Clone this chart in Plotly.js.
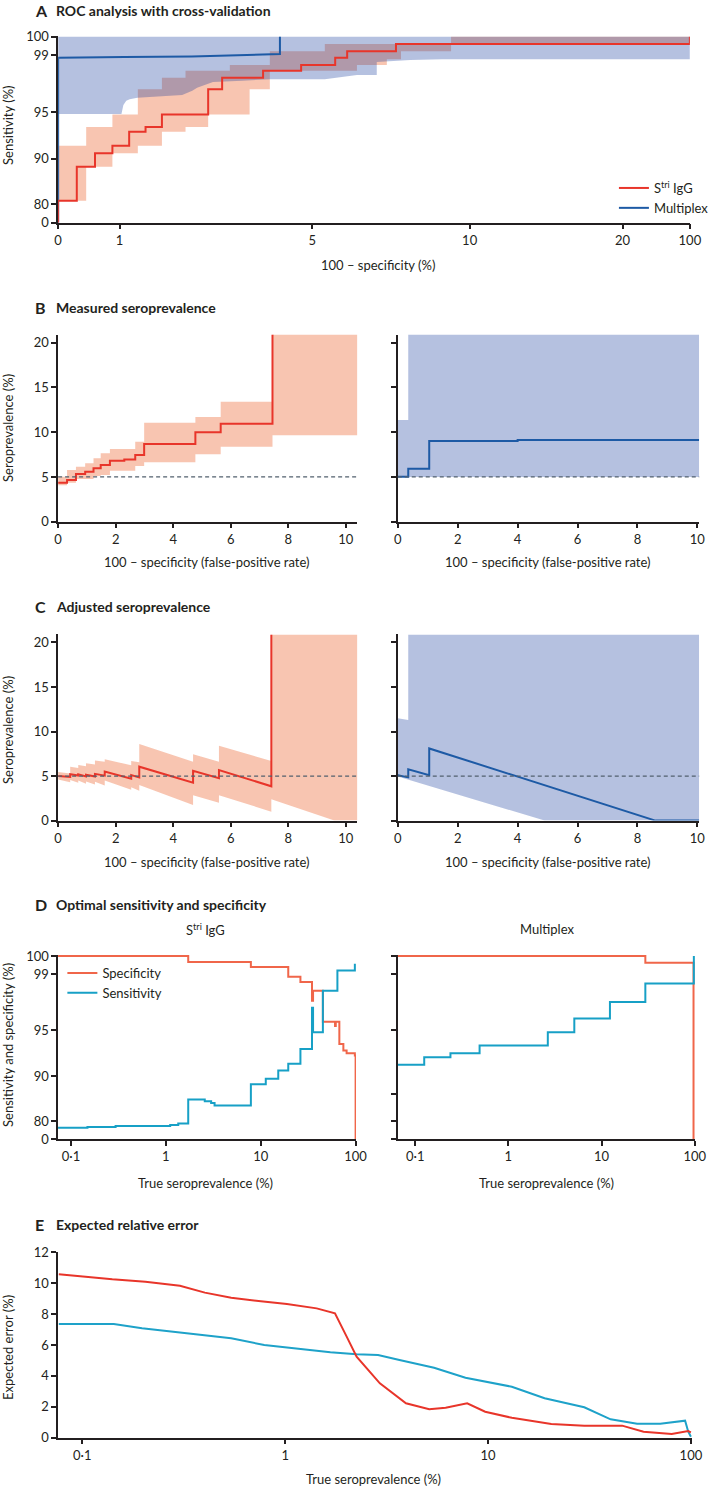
<!DOCTYPE html>
<html><head><meta charset="utf-8">
<script src="https://cdn.plot.ly/plotly-3.0.1.min.js"></script>
<style>html,body{margin:0;padding:0;background:#fff}</style>
</head><body><div id="chart" style="width:714px;height:1487px"></div>
<script>
// ---------------- DATA ----------------
// A: ROC with cross-validation (x = 100 - specificity %, y = sensitivity %)
const rocStriFpr  = [0, 0, 0.304, 0.601, 0.884, 1.20, 1.54, 1.88, 2.84, 3.13, 3.98, 4.77, 5.73, 6.11, 7.66, 100];
const rocStriSens = [0, 80.8, 88.3, 90.6, 91.4, 92.9, 93.4, 94.75, 96.6, 97.4, 97.9, 98.3, 98.8, 99.2, 99.6, 100];
const rocStriUpFpr  = [0, 0.457, 0.884, 1.38, 1.88, 2.37, 3.29, 4.12, 5.40, 9.41, 100];
const rocStriUp     = [91.4, 93.4, 94.75, 96.6, 97.4, 97.9, 98.3, 99.2, 99.6, 100, 100];
const rocStriLoFpr  = [0, 0.457, 0.884, 1.38, 1.88, 2.37, 2.84, 3.70, 4.12, 6.42, 7.37, 7.82, 9.41, 100];
const rocStriLo     = [80.8, 88.3, 90.6, 91.4, 92.9, 93.4, 94.75, 96.6, 97.9, 98.3, 98.7, 99.2, 99.6, 99.6];
const rocMultiFpr  = [0, 0, 1.1, 2.5, 4.33, 4.33];
const rocMultiSens = [0, 98.8, 98.85, 98.9, 99.05, 100];
const rocMultiLoFpr = [0, 1.04, 1.08, 1.14, 1.21, 1.37, 2.30, 2.51, 2.61, 2.94, 3.55, 4.12, 5.40, 6.02, 6.42, 7.05, 7.05, 8.11, 9.13, 100];
const rocMultiLo    = [94.8, 94.8, 95.5, 95.8, 95.9, 96.0, 96.2, 96.5, 96.7, 97.1, 97.2, 97.3, 97.3, 97.5, 97.6, 97.6, 98.5, 98.65, 98.7, 98.7];
const rocMultiUpFpr = [0, 100];
const rocMultiUp    = [100, 100];

// B: measured seroprevalence (x = false-positive rate %, y = %)
const trueSeroprevalence = 5;
const measStriFpr = [0, 0.31, 0.62, 0.94, 1.23, 1.48, 1.8, 2.3, 2.68, 2.99, 4.77, 5.65, 7.45];
const measStri    = [4.36, 4.66, 5.33, 5.59, 5.96, 6.33, 6.82, 6.95, 7.45, 8.68, 9.99, 10.95, 20.9];
const measStriBandFpr = [0, 0.31, 0.62, 0.94, 1.23, 1.48, 1.8, 2.68, 2.99, 4.77, 5.65, 7.45, 10.4];
const measStriUp = [5.03, 5.78, 6.15, 6.52, 7.08, 7.64, 8.12, 8.94, 11.06, 11.7, 13.4, 20.9, 20.9];
const measStriLo = [4.07, 4.36, 4.77, 4.77, 5.1, 5.22, 5.7, 6.22, 6.63, 7.53, 8.38, 9.65, 9.65];
const measMultiFpr = [0, 0.35, 1.05, 4.0, 10.06];
const measMulti    = [5.03, 5.92, 9.02, 9.13, 9.13];
const measMultiBandFpr = [0, 0.35, 10.06];
const measMultiUp = [11.36, 20.9, 20.9];
const measMultiLo = [5.0, 5.0, 5.0];

// C: adjusted seroprevalence
const adjStriFpr = [0, 0.42, 0.42, 0.70, 0.70, 0.97, 0.97, 1.28, 1.28, 1.62, 1.62, 2.54, 2.54, 2.82, 2.82, 4.69, 4.69, 5.59, 5.59, 7.41, 7.41];
const adjStri    = [5.0, 4.9, 5.2, 5.05, 5.2, 4.95, 5.15, 4.95, 5.25, 5.05, 5.5, 4.7, 5.1, 4.85, 6.05, 4.25, 5.6, 4.75, 5.68, 3.85, 20.9];
const adjStriBandFpr = [0, 0.42, 0.42, 0.70, 0.70, 0.97, 0.97, 1.28, 1.28, 1.62, 1.62, 2.54, 2.54, 2.82, 2.82, 4.69, 4.69, 5.59, 5.59, 7.41, 7.41, 9.6, 10.4];
const adjStriUp = [5.45, 5.3, 6.05, 5.9, 6.25, 6.1, 6.45, 6.3, 6.75, 6.6, 6.9, 6.2, 6.7, 6.55, 8.6, 6.6, 7.45, 6.6, 8.4, 6.7, 20.9, 20.9, 20.9];
const adjStriLo = [4.6, 4.3, 4.55, 4.25, 4.5, 4.15, 4.4, 4.05, 4.35, 3.95, 4.5, 3.45, 3.75, 3.35, 4.0, 1.75, 2.85, 2.0, 2.85, 1.0, 2.4, 0, 0];
const adjMultiFpr = [0, 0.35, 0.35, 1.05, 1.05, 8.6, 10.06];
const adjMulti    = [5.1, 4.85, 5.75, 5.1, 8.1, 0, 0];
const adjMultiUpFpr = [0, 0.35, 0.35, 10.06];
const adjMultiUp    = [11.5, 11.3, 20.9, 20.9];
const adjMultiLoFpr = [0, 4.9, 10.06];
const adjMultiLo    = [4.95, 0, 0];

// D: optimal sensitivity and specificity (x = true seroprevalence %)
const optStriSpecPrev = [0.073, 1.72, 7.87, 19.5, 26.2, 34.7, 35.6, 45.2, 60.7, 61.8, 67.4, 74.3, 80.4, 98.2, 100];
const optStriSpec     = [100, 99.67, 99.39, 98.8, 98.44, 97.1, 97.8, 95.6, 95.3, 95.6, 93.5, 92.8, 92.5, 92.26, 0];
const optStriSensPrev = [0.073, 0.149, 0.295, 1.11, 1.35, 1.72, 2.57, 3.0, 3.26, 7.87, 11.3, 15.3, 19.5, 26.2, 34.7, 35.6, 45.2, 64.3, 98.2];
const optStriSens     = [50.1, 53.2, 57.7, 62.1, 69.6, 84.8, 84.4, 84.05, 83.5, 88.2, 89.47, 90.63, 91.36, 92.97, 96.6, 94.77, 97.8, 99.2, 99.57];
const optMultiSpecPrev = [0.065, 29.5, 97];
const optMultiSpec     = [100, 99.63, 0];
const optMultiSensPrev = [0.065, 0.125, 0.239, 0.491, 2.65, 5.1, 12.3, 29.5, 97.8];
const optMultiSens     = [91.25, 92.07, 92.5, 93.33, 94.77, 95.84, 97.0, 98.32, 100];

// E: expected relative error
const errStriPrev = [0.0766, 0.1, 0.1406, 0.2047, 0.303, 0.402, 0.542, 0.759, 1.02, 1.43, 1.76, 2.01, 2.25, 2.93, 3.94, 5.13, 6.18, 7.89, 9.68, 13.1, 20.5, 29.8, 45.8, 58.4, 80.4, 97.0, 100];
const errStri     = [10.58, 10.42, 10.25, 10.1, 9.84, 9.39, 9.06, 8.83, 8.65, 8.37, 8.05, 6.54, 5.24, 3.52, 2.23, 1.84, 1.94, 2.23, 1.68, 1.29, 0.89, 0.78, 0.78, 0.39, 0.24, 0.43, 0.35];
const errMultiPrev = [0.0766, 0.143, 0.197, 0.276, 0.372, 0.542, 0.789, 1.15, 1.67, 2.25, 2.87, 3.66, 5.42, 7.74, 13.1, 19.0, 29.8, 40.2, 54.3, 70.6, 93.6, 97.0, 100];
const errMulti     = [7.36, 7.36, 7.08, 6.86, 6.65, 6.43, 6.0, 5.74, 5.53, 5.40, 5.35, 5.03, 4.53, 3.88, 3.30, 2.55, 1.97, 1.19, 0.91, 0.91, 1.10, 0.39, 0.06];

// Tick labels
const warpTicksU = [0, 1, 5, 10, 20, 100];
const fprTickText = ['0', '1', '5', '10', '20', '100'];
const sensTickVals = [0, 80, 90, 95, 99, 100];
const sensTickText = ['0', '80', '90', '95', '99', '100'];
const sensTickValsRight = [0, 80, 86, 95, 99, 100];
const logTickVals = [0.1, 1, 10, 100];
const logTickText = ['0·1', '1', '10', '100'];

// ---------------- SCALES ----------------
const U_KNOTS = [0, 1, 5, 10, 20, 100];
const FPR_AXIS_POS = [0, 0.0972, 0.4022, 0.6514, 0.8934, 1];
const SENS_AXIS_POS = [0, 0.098, 0.405, 0.657, 0.902, 1];
function warp(u, pos) {
  for (let i = 0; i < U_KNOTS.length - 1; i++) {
    if (u <= U_KNOTS[i + 1]) return pos[i] + (u - U_KNOTS[i]) / (U_KNOTS[i + 1] - U_KNOTS[i]) * (pos[i + 1] - pos[i]);
  }
  return 1;
}
const tx = v => warp(v, FPR_AXIS_POS);
const ty = s => 1 - warp(100 - s, SENS_AXIS_POS);

// ---------------- STYLE ----------------
const W = 714, H = 1487;
const FONT = 'Lato, "Open Sans", sans-serif';
const INK = '#231f20';
const RED = '#e8352a', BLUE = '#1d5aa5';
const RED_BAND = 'rgba(242,140,100,0.5)', BLUE_BAND = 'rgba(16,55,155,0.31)';
const SPEC = '#f0664a', SENS = '#17a0c6', CYAN = '#1ea2c9';
const xd = (a, b) => [a / W, b / W];
const yd = (top, bottom) => [1 - bottom / H, 1 - top / H];

const traces = [];
function band(x, lo, xu, up, color, xa, ya, shape) {
  traces.push({x: x, y: lo, xaxis: xa, yaxis: ya, mode: 'lines', line: {width: 0, shape: shape}, hoverinfo: 'skip', showlegend: false});
  traces.push({x: xu, y: up, xaxis: xa, yaxis: ya, mode: 'lines', line: {width: 0, shape: shape}, fill: 'tonexty', fillcolor: color, hoverinfo: 'skip', showlegend: false});
}
function line(x, y, color, xa, ya, shape, extra) {
  traces.push(Object.assign({x: x, y: y, xaxis: xa, yaxis: ya, mode: 'lines', line: {color: color, width: 2, shape: shape}, showlegend: false, hoverinfo: 'skip'}, extra || {}));
}

// A
band(rocStriLoFpr.map(tx), rocStriLo.map(ty), rocStriUpFpr.map(tx), rocStriUp.map(ty), RED_BAND, 'x', 'y', 'hv');
band(rocMultiLoFpr.map(tx), rocMultiLo.map(ty), rocMultiUpFpr.map(tx), rocMultiUp.map(ty), BLUE_BAND, 'x', 'y', 'linear');
line(rocMultiFpr.map(tx), rocMultiSens.map(ty), BLUE, 'x', 'y', 'linear', {name: 'Multiplex', showlegend: true, legend: 'legend'});
line(rocStriFpr.map(tx), rocStriSens.map(ty), RED, 'x', 'y', 'hv', {name: 'S<sup>tri</sup> IgG', showlegend: true, legend: 'legend'});

// B
band(measStriBandFpr, measStriLo, measStriBandFpr, measStriUp, RED_BAND, 'x2', 'y2', 'hv');
line(measStriFpr, measStri, RED, 'x2', 'y2', 'hv');
band(measMultiBandFpr, measMultiLo, measMultiBandFpr, measMultiUp, BLUE_BAND, 'x3', 'y3', 'hv');
line(measMultiFpr, measMulti, BLUE, 'x3', 'y3', 'hv');

// C
band(adjStriBandFpr, adjStriLo, adjStriBandFpr, adjStriUp, RED_BAND, 'x4', 'y4', 'linear');
line(adjStriFpr, adjStri, RED, 'x4', 'y4', 'linear');
band(adjMultiLoFpr, adjMultiLo, adjMultiUpFpr, adjMultiUp, BLUE_BAND, 'x5', 'y5', 'linear');
line(adjMultiFpr, adjMulti, BLUE, 'x5', 'y5', 'linear');

// D
line(optStriSpecPrev, optStriSpec.map(ty), SPEC, 'x6', 'y6', 'hv', {name: 'Specificity', showlegend: true, legend: 'legend2'});
line(optStriSensPrev, optStriSens.map(ty), SENS, 'x6', 'y6', 'hv', {name: 'Sensitivity', showlegend: true, legend: 'legend2'});
line(optMultiSpecPrev, optMultiSpec.map(ty), SPEC, 'x7', 'y7', 'hv');
line(optMultiSensPrev, optMultiSens.map(ty), SENS, 'x7', 'y7', 'hv');

// E
line(errMultiPrev, errMulti, CYAN, 'x8', 'y8', 'linear');
line(errStriPrev, errStri, RED, 'x8', 'y8', 'linear');

// ---------------- LAYOUT ----------------
const axBase = {showline: true, linecolor: INK, linewidth: 1.5, ticks: 'outside', ticklen: 5, tickwidth: 1.5, tickcolor: INK,
  showgrid: false, zeroline: false, tickfont: {family: FONT, size: 13, color: INK}, layer: 'below traces', fixedrange: true};
const ax = o => Object.assign({}, axBase, o);

const linTicksX = [0, 2, 4, 6, 8, 10];
const linTicksY = [0, 5, 10, 15, 20];

const layout = {
  width: W, height: H, margin: {l: 0, r: 0, t: 0, b: 0}, paper_bgcolor: '#fff', plot_bgcolor: 'rgba(0,0,0,0)',
  font: {family: FONT, color: INK, size: 13}, hovermode: false,
  xaxis: ax({domain: xd(58.7, 696.7), anchor: 'y', range: [0, 1], tickmode: 'array', tickvals: warpTicksU.map(tx), ticktext: fprTickText}),
  yaxis: ax({domain: yd(36, 222.7), anchor: 'x', range: [0, 1.004], tickmode: 'array', tickvals: sensTickVals.map(ty), ticktext: sensTickText}),
  xaxis2: ax({domain: xd(58.7, 360.9), anchor: 'y2', range: [0, 10.4], tickmode: 'array', tickvals: linTicksX}),
  yaxis2: ax({domain: yd(334.6, 521.7), anchor: 'x2', range: [0, 20.9], tickmode: 'array', tickvals: linTicksY}),
  xaxis3: ax({domain: xd(401.7, 706.1), anchor: 'y3', range: [0, 10.06], tickmode: 'array', tickvals: linTicksX}),
  yaxis3: ax({domain: yd(334.6, 521.7), anchor: 'x3', range: [0, 20.9], tickmode: 'array', tickvals: linTicksY, showticklabels: false}),
  xaxis4: ax({domain: xd(58.7, 360.9), anchor: 'y4', range: [0, 10.4], tickmode: 'array', tickvals: linTicksX}),
  yaxis4: ax({domain: yd(634.4, 820.6), anchor: 'x4', range: [0, 20.9], tickmode: 'array', tickvals: linTicksY}),
  xaxis5: ax({domain: xd(401.7, 706.1), anchor: 'y5', range: [0, 10.06], tickmode: 'array', tickvals: linTicksX}),
  yaxis5: ax({domain: yd(634.4, 820.6), anchor: 'x5', range: [0, 20.9], tickmode: 'array', tickvals: linTicksY, showticklabels: false}),
  xaxis6: ax({domain: xd(58.7, 359.6), anchor: 'y6', type: 'log', range: [-1.136, 2.005], tickmode: 'array', tickvals: logTickVals, ticktext: logTickText}),
  yaxis6: ax({domain: yd(955, 1139), anchor: 'x6', range: [0, 1.006], tickmode: 'array', tickvals: sensTickVals.map(ty), ticktext: sensTickText}),
  xaxis7: ax({domain: xd(401.7, 702.1), anchor: 'y7', type: 'log', range: [-1.187, 2.005], tickmode: 'array', tickvals: logTickVals, ticktext: logTickText}),
  yaxis7: ax({domain: yd(955, 1139), anchor: 'x7', range: [0, 1.006], tickmode: 'array', tickvals: sensTickValsRight.map(ty), showticklabels: false}),
  xaxis8: ax({domain: xd(58.7, 698.8), anchor: 'y8', type: 'log', range: [-1.119, 2.005], tickmode: 'array', tickvals: logTickVals, ticktext: logTickText}),
  yaxis8: ax({domain: yd(1252.3, 1437.7), anchor: 'x8', range: [0, 12], tickmode: 'array', tickvals: [0, 2, 4, 6, 8, 10, 12]}),
  legend: {x: 620 / W, y: 1 - 173 / H, xanchor: 'left', yanchor: 'top', traceorder: 'reversed', bgcolor: 'rgba(0,0,0,0)', font: {family: FONT, size: 13, color: INK}, itemwidth: 30, tracegroupgap: 0},
  legend2: {x: 63 / W, y: 1 - 958 / H, xanchor: 'left', yanchor: 'top', traceorder: 'normal', bgcolor: 'rgba(0,0,0,0)', font: {family: FONT, size: 13, color: INK}, itemwidth: 30, tracegroupgap: 0},
  shapes: ['2', '3', '4', '5'].map(n => ({type: 'line', xref: 'x' + n + ' domain', x0: 0, x1: 1, yref: 'y' + n, y0: trueSeroprevalence, y1: trueSeroprevalence,
    line: {color: '#52606e', width: 1.3, dash: '4px,3px'}, layer: 'above'})),
  annotations: []
};

function ann(text, x, y, o) {
  layout.annotations.push(Object.assign({text: text, xref: 'paper', yref: 'paper', x: x / W, y: 1 - y / H, showarrow: false,
    xanchor: 'center', yanchor: 'middle', font: {family: FONT, size: 13, color: INK}}, o || {}));
}
const panels = [['A', 'ROC analysis with cross-validation', 10.5], ['B', 'Measured seroprevalence', 307.5], ['C', 'Adjusted seroprevalence', 606.7],
  ['D', 'Optimal sensitivity and specificity', 904], ['E', 'Expected relative error', 1224.3]];
panels.forEach(p => {
  ann('<b>' + p[0] + '</b>', 33, p[2], {xanchor: 'left', font: {family: FONT, size: 16, color: INK}});
  ann('<b>' + p[1] + '</b>', 55, p[2], {xanchor: 'left', font: {family: FONT, size: 14, color: INK}});
});
// axis titles
ann('Sensitivity (%)', 8, 125, {textangle: -90});
ann('100 – specificity (%)', 382, 265);
ann('Seroprevalence (%)', 8, 428, {textangle: -90});
ann('100 – specificity (false-positive rate)', 209, 562);
ann('100 – specificity (false-positive rate)', 553, 562);
ann('Seroprevalence (%)', 8, 730, {textangle: -90});
ann('100 – specificity (false-positive rate)', 209, 862);
ann('100 – specificity (false-positive rate)', 553, 862);
ann('S<sup>tri</sup> IgG', 208, 929);
ann('Multiplex', 552, 929);
ann('Sensitivity and specificity (%)', 8, 1045, {textangle: -90});
ann('True seroprevalence (%)', 208, 1183);
ann('True seroprevalence (%)', 552, 1183);
ann('Expected error (%)', 8, 1347, {textangle: -90});
ann('True seroprevalence (%)', 377, 1479);

Plotly.newPlot('chart', traces, layout, {displayModeBar: false, responsive: false});
</script></body></html>
